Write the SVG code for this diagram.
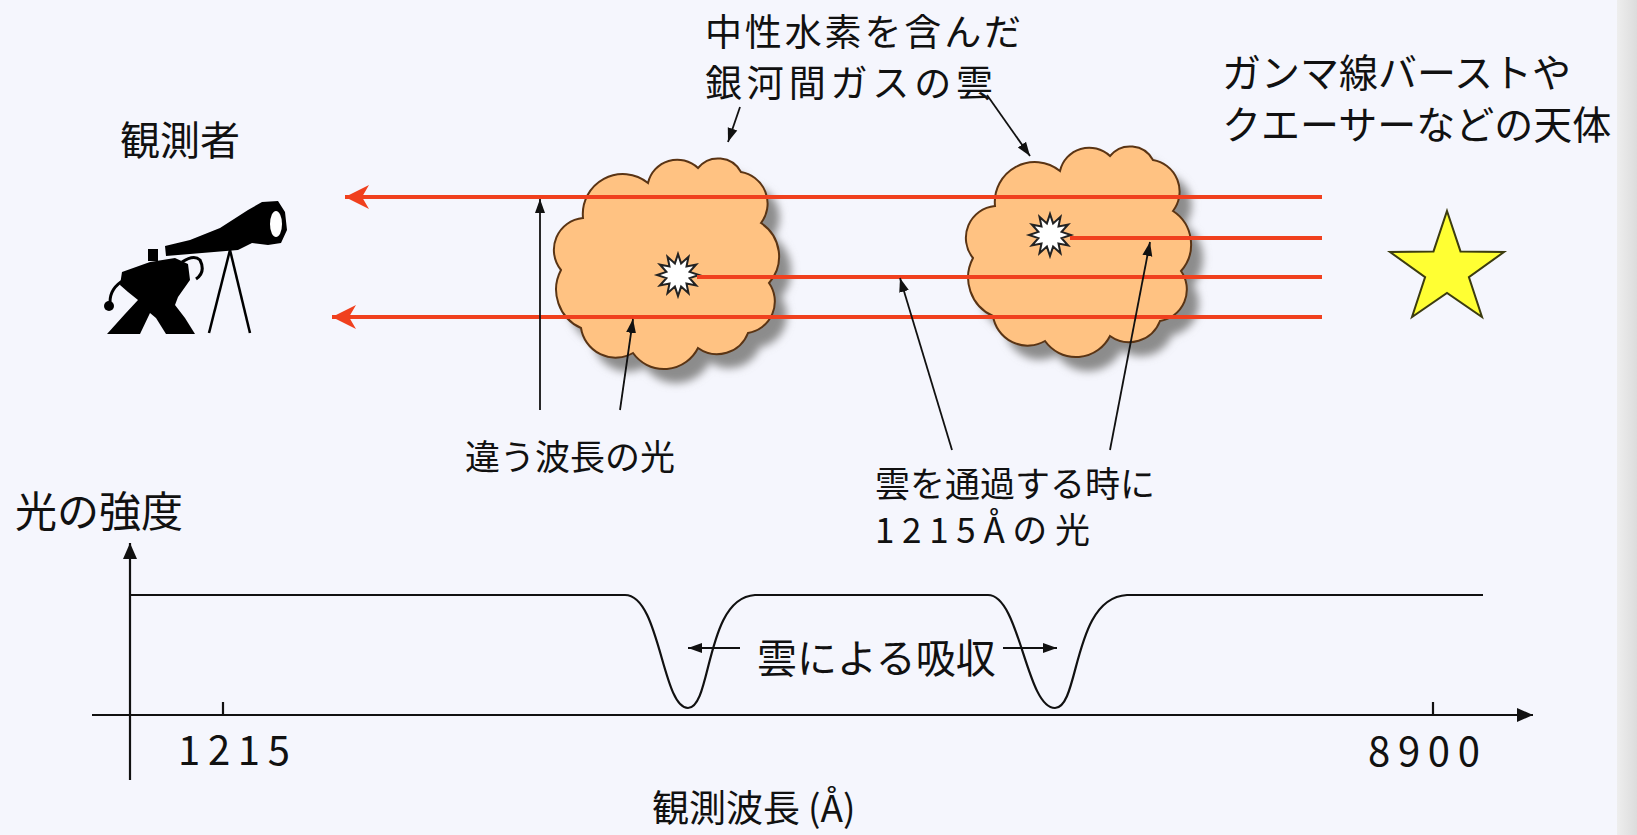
<svg xmlns="http://www.w3.org/2000/svg" width="1637" height="835" viewBox="0 0 1637 835">
  <defs>
    <style>
      .t { font-family: "Noto Sans CJK JP", "Liberation Sans", sans-serif; fill: #111; }
      .ray { stroke: #f0401e; stroke-width: 4; fill: none; }
      .lead { stroke: #111; stroke-width: 1.8; fill: none; }
      .axis { stroke: #111; stroke-width: 2.2; fill: none; }
      .cloud { fill: #ffc282; stroke: #5a3414; stroke-width: 2; }
      .shadow { fill: #8c8c8c; }
      .burst { fill: #ffffff; stroke: #222; stroke-width: 2; stroke-linejoin: miter; }
    </style>
    <linearGradient id="edge" x1="0" y1="0" x2="1" y2="0">
      <stop offset="0" stop-color="#eeeeee"/>
      <stop offset="1" stop-color="#dcdcdc"/>
    </linearGradient>
    <filter id="soft" x="-20%" y="-20%" width="140%" height="140%">
      <feGaussianBlur stdDeviation="4"/>
    </filter>
    <!-- cloud outline in local coordinates -->
    <path id="cloudShape" d="M30,60 A40,40 0 0 1 95,25 A30,30 0 0 1 145,10 A26,26 0 0 1 188,14 A32,32 0 0 1 208,65 A40,40 0 0 1 216,125 A32,32 0 0 1 195,175 A33,33 0 0 1 145,190 A38,38 0 0 1 80,195 A35,35 0 0 1 28,170 A42,42 0 0 1 8,112 A32,32 0 0 1 30,60 Z"/>
    <polygon id="burstShape" points="21,0 11.6,3.1 18.2,10.5 8.5,8.5 10.5,18.2 3.1,11.6 0,21 -3.1,11.6 -10.5,18.2 -8.5,8.5 -18.2,10.5 -11.6,3.1 -21,0 -11.6,-3.1 -18.2,-10.5 -8.5,-8.5 -10.5,-18.2 -3.1,-11.6 0,-21 3.1,-11.6 10.5,-18.2 8.5,-8.5 18.2,-10.5 11.6,-3.1"/>
    <marker id="rayHead" markerUnits="userSpaceOnUse" viewBox="0 -13 26 26" markerWidth="26" markerHeight="26" refX="24" refY="0" orient="auto">
      <path d="M0,-12 L24,0 L0,12 L7,0 Z" fill="#f0401e"/>
    </marker>
    <marker id="leadHead" markerUnits="userSpaceOnUse" viewBox="0 -6 15 12" markerWidth="15" markerHeight="12" refX="14" refY="0" orient="auto">
      <path d="M0,-5 L14,0 L0,5 Z" fill="#111"/>
    </marker>
    <marker id="axisHead" markerUnits="userSpaceOnUse" viewBox="0 -8 17 16" markerWidth="17" markerHeight="16" refX="16" refY="0" orient="auto">
      <path d="M0,-7 L16,0 L0,7 Z" fill="#111"/>
    </marker>
  </defs>

  <!-- background -->
  <rect x="0" y="0" width="1637" height="835" fill="#f5f6fd"/>
  <rect x="1617" y="0" width="20" height="835" fill="url(#edge)"/>

  <!-- observer with telescope -->
  <g id="observer">
    <text class="t" x="120" y="155" font-size="40">観測者</text>
    <path d="M165,246 L190,240 L220,228 L248,210 L262,202 L278,201 L285,212 L287,230 L281,243 L268,245 L252,243 L238,250 L190,254 L166,256 Z" fill="#000"/>
    <ellipse cx="276" cy="224" rx="6" ry="13" fill="#fff"/>
    <rect x="148" y="249" width="10" height="12" fill="#000"/>
    <line x1="230" y1="250" x2="209" y2="333" stroke="#000" stroke-width="2.5"/>
    <line x1="230" y1="250" x2="250" y2="333" stroke="#000" stroke-width="2.5"/>
    <polygon points="122,272 150,262 175,258 188,264 190,280 178,297 175,305 185,318 195,334 166,334 156,318 150,313 140,334 107,334 125,314 138,300 128,292 120,285" fill="#000"/>
    <path d="M124,280 Q110,288 110,302" stroke="#000" stroke-width="3" fill="none"/>
    <circle cx="109" cy="306" r="5" fill="#000"/>
    <path d="M182,262 Q194,254 200,260 Q206,272 196,279" stroke="#000" stroke-width="3" fill="none"/>
  </g>

  <!-- intergalactic gas clouds -->
  <g id="cloud1">
    <use href="#cloudShape" class="shadow" transform="translate(565,172)" filter="url(#soft)"/>
    <use href="#cloudShape" class="cloud" transform="translate(553,158)"/>
    <use href="#burstShape" class="burst" transform="translate(678,275)"/>
  </g>
  <g id="cloud2">
    <use href="#cloudShape" class="shadow" transform="translate(977,160)" filter="url(#soft)"/>
    <use href="#cloudShape" class="cloud" transform="translate(965,146)"/>
    <use href="#burstShape" class="burst" transform="translate(1050,235)"/>
  </g>

  <!-- source object -->
  <g id="source">
    <text class="t" x="1222" y="87" font-size="39">ガンマ線バーストや</text>
    <text class="t" x="1222" y="139" font-size="39">クエーサーなどの天体</text>
    <polygon points="1447,211 1460.5,251.4 1504,252 1468.9,277.1 1482,317 1447,293 1412,317 1425.1,277.1 1390,252 1433.5,251.4" fill="#ffff33" stroke="#3c3c10" stroke-width="2" stroke-linejoin="miter"/>
  </g>

  <!-- labels -->
  <g id="cloudLabel">
    <text class="t" x="705" y="46" font-size="37" textLength="316" lengthAdjust="spacing">中性水素を含んだ</text>
    <text class="t" x="705" y="97" font-size="37" textLength="288" lengthAdjust="spacing">銀河間ガスの雲</text>
  </g>
  <g id="otherLightLabel">
    <text class="t" x="465" y="470" font-size="35">違う波長の光</text>
  </g>
  <g id="absorbedLightLabel">
    <text class="t" x="875" y="497" font-size="35">雲を通過する時に</text>
    <text class="t" x="875" y="543" font-size="35" textLength="215" lengthAdjust="spacing">1215Åの光</text>
  </g>

  <!-- light rays and leader arrows -->
  <g id="connectors">
    <line class="ray" x1="1322" y1="197" x2="345" y2="197" marker-end="url(#rayHead)"/>
    <line class="ray" x1="1070" y1="238" x2="1322" y2="238"/>
    <line class="ray" x1="697" y1="277" x2="1322" y2="277"/>
    <line class="ray" x1="1322" y1="317" x2="332" y2="317" marker-end="url(#rayHead)"/>

    <line class="lead" x1="740" y1="107" x2="728" y2="142" marker-end="url(#leadHead)"/>
    <line class="lead" x1="987" y1="95" x2="1030" y2="156" marker-end="url(#leadHead)"/>
    <line class="lead" x1="540" y1="410" x2="540" y2="199" marker-end="url(#leadHead)"/>
    <line class="lead" x1="620" y1="410" x2="633" y2="319" marker-end="url(#leadHead)"/>
    <line class="lead" x1="952" y1="450" x2="900" y2="278" marker-end="url(#leadHead)"/>
    <line class="lead" x1="1110" y1="450" x2="1150" y2="242" marker-end="url(#leadHead)"/>
  </g>

  <!-- observed spectrum -->
  <g id="spectrum">
    <text class="t" x="15" y="527" font-size="42">光の強度</text>
    <line class="axis" x1="130" y1="780" x2="130" y2="543" marker-end="url(#axisHead)"/>
    <line class="axis" x1="92" y1="715" x2="1533" y2="715" marker-end="url(#axisHead)"/>
    <line class="axis" x1="223" y1="702" x2="223" y2="715"/>
    <line class="axis" x1="1433" y1="702" x2="1433" y2="715"/>
    <path class="axis" d="M130,595 H625 C660,595 662,708 688,708 C712,708 705,598 755,595 H988 C1020,595 1026,708 1055,708 C1080,708 1072,598 1127,595 H1483"/>
    <text class="t" x="757" y="673" font-size="40">雲による吸収</text>
    <line class="lead" x1="740" y1="648" x2="688" y2="648" marker-end="url(#leadHead)"/>
    <line class="lead" x1="1003" y1="648" x2="1057" y2="648" marker-end="url(#leadHead)"/>
    <text class="t" x="178" y="765" font-size="40" textLength="112" lengthAdjust="spacing">1215</text>
    <text class="t" x="1368" y="766" font-size="40" textLength="112" lengthAdjust="spacing">8900</text>
    <text class="t" x="652" y="822" font-size="37">観測波長<tspan dx="8">(Å)</tspan></text>
  </g>
</svg>
